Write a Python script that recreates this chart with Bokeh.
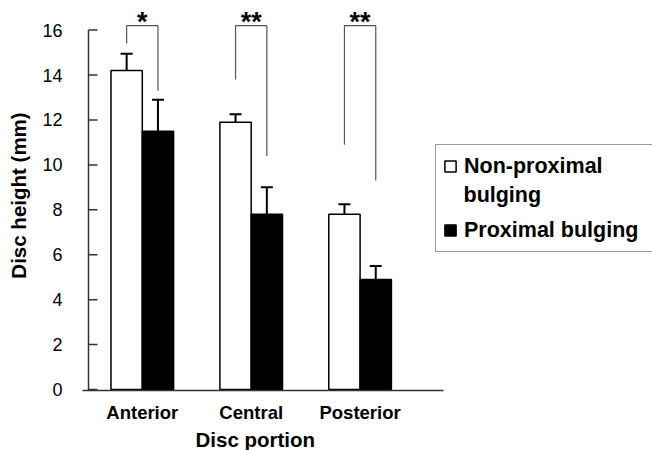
import numpy as np
from bokeh.plotting import figure
from bokeh.models import Range1d, FixedTicker, Legend, LegendItem, Label, Title
from bokeh.core.properties import value
from bokeh.embed import file_html
from bokeh.resources import INLINE

# ---------------- data ----------------
categories = ["Anterior", "Central", "Posterior"]
non_proximal = [14.2, 11.9, 7.8]
non_proximal_err = [0.75, 0.35, 0.45]
proximal = [11.5, 7.8, 4.9]
proximal_err = [1.4, 1.2, 0.6]
sig_labels = ["*", "**", "**"]
bracket_left_end = [15.4, 13.8, 10.9]
bracket_right_end = [13.3, 10.4, 9.3]
bracket_top = 16.2
y_ticks = [0, 2, 4, 6, 8, 10, 12, 14, 16]
series_names = ["Non-proximal", "Proximal bulging"]
series_name_cont = "bulging"

# ---------------- layout constants ----------------
FONT = "Liberation Sans"
PX_X = 108.9          # pixels per category step
PX_Y = 22.75          # pixels per mm
BAR_W = 0.2875
W, H = 652, 450
LEFT, BOTTOM = 82, 55
FRAME_W = W - LEFT
FRAME_H = H - BOTTOM

pos = np.arange(1, len(categories) + 1, dtype=float)
xw = pos - BAR_W / 2
xb = pos + BAR_W / 2

x_start = 1 - 59.8 / PX_X
x_end = x_start + FRAME_W / PX_X
y_start = -1.0 / PX_Y
y_end = y_start + FRAME_H / PX_Y

p = figure(width=W, height=H,
           x_range=Range1d(x_start, x_end), y_range=Range1d(y_start, y_end),
           output_backend="svg", toolbar_location=None,
           min_border_left=LEFT, min_border_right=0, min_border_top=0,
           min_border_bottom=BOTTOM)
p.xgrid.visible = False
p.ygrid.visible = False
p.outline_line_color = None
p.background_fill_color = "white"

AX_COLOR = "#333333"

# bars
rw = p.vbar(x=xw, top=non_proximal, bottom=0, width=BAR_W,
            fill_color="white", line_color="black", line_width=1.5)
rb = p.vbar(x=xb, top=proximal, bottom=0, width=BAR_W,
            fill_color="black", line_color="black", line_width=1.5)

# error bars (upper only)
cap = 6 / PX_X
for xs, vals, errs in ((xw, non_proximal, non_proximal_err), (xb, proximal, proximal_err)):
    vals = np.array(vals)
    tops = vals + np.array(errs)
    p.segment(x0=xs, y0=vals, x1=xs, y1=tops, line_color="black", line_width=2)
    p.segment(x0=xs - cap, y0=tops, x1=xs + cap, y1=tops, line_color="black", line_width=2)

# significance brackets
bx = [[xw[i], xw[i], xb[i], xb[i]] for i in range(len(categories))]
by = [[bracket_left_end[i], bracket_top, bracket_top, bracket_right_end[i]] for i in range(len(categories))]
p.multi_line(xs=bx, ys=by, line_color="#555555", line_width=1.2)
p.text(x=pos, y=[bracket_top + 0.15] * len(categories), text=sig_labels,
       text_font=value(FONT), text_font_style="bold", text_font_size="27px",
       text_align="center", text_baseline="alphabetic", text_color="black")

# custom y axis line + inward ticks (axis sits 6px right of frame edge)
y_axis_x = x_start + 6 / PX_X
p.segment(x0=[y_axis_x], y0=[y_start], x1=[y_axis_x], y1=[y_ticks[-1]],
          line_color=AX_COLOR, line_width=1.5)
p.segment(x0=[y_axis_x] * len(y_ticks), y0=y_ticks,
          x1=[y_axis_x + 9 / PX_X] * len(y_ticks), y1=y_ticks,
          line_color=AX_COLOR, line_width=1.5)

# y axis (labels only)
ya = p.yaxis[0]
ya.ticker = FixedTicker(ticks=y_ticks)
ya.axis_line_color = None
ya.major_tick_line_color = None
ya.minor_tick_line_color = None
ya.major_tick_out = 0
ya.major_tick_in = 0
ya.major_label_standoff = 20
ya.major_label_text_font = FONT
ya.major_label_text_font_size = "18px"
ya.major_label_text_color = "black"
ya.axis_label = "Disc height (mm)"
ya.axis_label_text_font = FONT
ya.axis_label_text_font_style = "bold"
ya.axis_label_text_font_size = "20.5px"
ya.axis_label_text_color = "black"
ya.axis_label_standoff = 9

# x axis
xa = p.xaxis[0]
xa.ticker = FixedTicker(ticks=list(pos))
xa.major_label_overrides = {float(v): c for v, c in zip(pos, categories)}
xa.bounds = (x_start, 1 + 301.5 / PX_X)
xa.axis_line_color = AX_COLOR
xa.axis_line_width = 1.5
xa.major_tick_line_color = None
xa.minor_tick_line_color = None
xa.major_tick_out = 0
xa.major_tick_in = 0
xa.major_label_standoff = 11
xa.major_label_text_font = FONT
xa.major_label_text_font_style = "bold"
xa.major_label_text_font_size = "18.5px"
xa.major_label_text_color = "black"

p.add_layout(Title(text="Disc portion", align="left", offset=113, standoff=0,
                   text_font=FONT, text_font_style="bold", text_font_size="20.5px",
                   text_color="black"), "below")

# legend (transparent background so the wrapped second line shows)
legend = Legend(items=[LegendItem(label=series_names[0], renderers=[rw]),
                       LegendItem(label=series_names[1], renderers=[rb])],
                location=(353, 138), margin=0, padding=7, spacing=36,
                glyph_width=14, glyph_height=14, label_standoff=7,
                label_width=220, label_height=28,
                label_text_font=FONT, label_text_font_style="bold",
                label_text_font_size="21.5px", label_text_color="black",
                border_line_color=AX_COLOR, border_line_width=1,
                background_fill_alpha=0)
p.add_layout(legend)
p.add_layout(Label(x=381, y=395 - 199.5, x_units="screen", y_units="screen",
                   text=series_name_cont, text_align="left", text_baseline="alphabetic",
                   text_font=FONT, text_font_style="bold", text_font_size="21.5px",
                   text_color="black"))

open("out.html", "w").write(file_html(p, INLINE))
